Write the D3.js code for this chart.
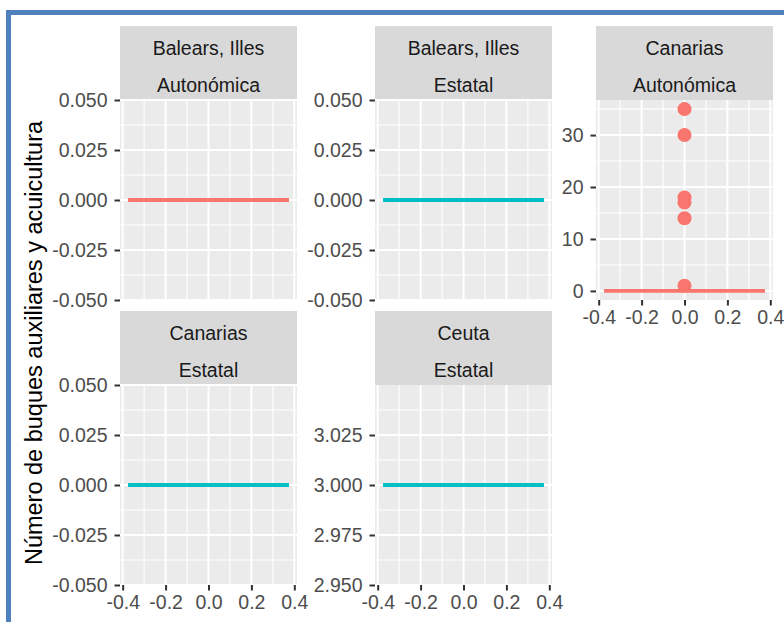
<!DOCTYPE html>
<html>
<head>
<meta charset="utf-8">
<script src="https://cdn.jsdelivr.net/npm/d3@7"></script>
<style>
  html, body { margin: 0; padding: 0; background: #ffffff; }
  svg { display: block; }
</style>
</head>
<body>
<script>
// Facet panels: comunidad + titularidad
const regions = ["Balears, Illes", "Balears, Illes", "Canarias", "Canarias", "Ceuta"];
const titularidad = ["Autonómica", "Estatal", "Autonómica", "Estatal", "Estatal"];
// Boxplot summaries per panel (all quartiles collapse onto the median)
const medians = [0, 0, 0, 0, 3];
const outliers = [[], [], [1, 14, 17, 18, 30, 35], [], []];
// Axis ticks
const xTicks = [-0.4, -0.2, 0.0, 0.2, 0.4];
const yTicks = [
  [-0.05, -0.025, 0, 0.025, 0.05],
  [-0.05, -0.025, 0, 0.025, 0.05],
  [0, 10, 20, 30],
  [-0.05, -0.025, 0, 0.025, 0.05],
  [2.95, 2.975, 3.0, 3.025]
];
const yTitle = "Número de buques auxiliares y acuicultura";
const fillColors = { "Autonómica": "#F8766D", "Estatal": "#00BFC4" };

const W = 784, H = 622;
const FONT = "'Liberation Sans', Arial, sans-serif";
const FS = 19.5;
const colX = [120, 375, 596];
const stripTop = [26, 311];
const stripH = 74;
const panelW = 177, panelH = 200;
const boxWidth = 0.75;

const svg = d3.select("body").append("svg").attr("width", W).attr("height", H);
svg.append("rect").attr("width", W).attr("height", H).attr("fill", "#ffffff");

// frame
svg.append("line").attr("x1", 6).attr("x2", W).attr("y1", 12.5).attr("y2", 12.5)
  .attr("stroke", "#4F81BD").attr("stroke-width", 5);
svg.append("line").attr("x1", 8.5).attr("x2", 8.5).attr("y1", 10).attr("y2", H)
  .attr("stroke", "#4F81BD").attr("stroke-width", 5);

const xHalf = boxWidth / 2;
const xPad = boxWidth * 0.05;

function yDomain(i) {
  const vals = [medians[i], ...outliers[i]];
  const lo = d3.min(vals), hi = d3.max(vals);
  if (lo === hi) return [lo - 0.05, hi + 0.05];
  const pad = (hi - lo) * 0.05;
  return [lo - pad, hi + pad];
}

function minorBetween(ticks, domain) {
  const step = ticks[1] - ticks[0];
  const out = [];
  for (let k = -1; k < ticks.length; k++) {
    const v = ticks[0] + step * (k + 0.5);
    if (v >= domain[0] - 1e-9 && v <= domain[1] + 1e-9) out.push(v);
  }
  return out;
}

const fmt3 = d3.format(".3f");

regions.forEach((reg, i) => {
  const col = i % 3, row = Math.floor(i / 3);
  const x0 = colX[col];
  const sTop = stripTop[row];
  const pTop = sTop + stripH;
  const g = svg.append("g");

  // strip
  g.append("rect").attr("x", x0).attr("y", sTop).attr("width", panelW).attr("height", stripH)
    .attr("fill", "#D9D9D9");
  g.append("text").attr("x", x0 + panelW / 2).attr("y", sTop + 22.5).attr("dy", "0.35em")
    .attr("text-anchor", "middle").attr("font-family", FONT).attr("font-size", FS)
    .attr("fill", "#1A1A1A").text(reg);
  g.append("text").attr("x", x0 + panelW / 2).attr("y", sTop + 59).attr("dy", "0.35em")
    .attr("text-anchor", "middle").attr("font-family", FONT).attr("font-size", FS)
    .attr("fill", "#1A1A1A").text(titularidad[i]);

  // scales
  const x = d3.scaleLinear().domain([-xHalf - xPad, xHalf + xPad]).range([x0, x0 + panelW]);
  const dom = yDomain(i);
  const y = d3.scaleLinear().domain(dom).range([pTop + panelH, pTop]);

  // panel background
  g.append("rect").attr("x", x0).attr("y", pTop).attr("width", panelW).attr("height", panelH)
    .attr("fill", "#EBEBEB");

  const grid = g.append("g");
  const yMinor = minorBetween(yTicks[i], dom);
  const xMinor = minorBetween(xTicks, x.domain());
  grid.selectAll(".ymin").data(yMinor).join("line")
    .attr("x1", x0).attr("x2", x0 + panelW).attr("y1", d => y(d)).attr("y2", d => y(d))
    .attr("stroke", "#ffffff").attr("stroke-width", 1.1);
  grid.selectAll(".xmin").data(xMinor).join("line")
    .attr("y1", pTop).attr("y2", pTop + panelH).attr("x1", d => x(d)).attr("x2", d => x(d))
    .attr("stroke", "#ffffff").attr("stroke-width", 1.1);
  grid.selectAll(".ymaj").data(yTicks[i]).join("line")
    .attr("x1", x0).attr("x2", x0 + panelW).attr("y1", d => y(d)).attr("y2", d => y(d))
    .attr("stroke", "#ffffff").attr("stroke-width", 2);
  grid.selectAll(".xmaj").data(xTicks).join("line")
    .attr("y1", pTop).attr("y2", pTop + panelH).attr("x1", d => x(d)).attr("x2", d => x(d))
    .attr("stroke", "#ffffff").attr("stroke-width", 2);

  const color = fillColors[titularidad[i]];
  // collapsed box / median
  g.append("line")
    .attr("x1", x(-xHalf)).attr("x2", x(xHalf))
    .attr("y1", y(medians[i])).attr("y2", y(medians[i]))
    .attr("stroke", color).attr("stroke-width", 3.8);
  // outliers
  g.selectAll(".out").data(outliers[i]).join("circle")
    .attr("cx", x(0)).attr("cy", d => y(d)).attr("r", 7)
    .attr("fill", color);

  // y axis
  const yAxis = d3.axisLeft(y).tickValues(yTicks[i]).tickSize(5.5).tickPadding(7)
    .tickFormat(d => (i === 2 ? d3.format("d")(d) : fmt3(d)).replace("\u2212", "-"));
  const ya = g.append("g").attr("transform", `translate(${x0},0)`).call(yAxis);
  ya.select(".domain").remove();
  ya.selectAll(".tick line").attr("stroke", "#333333").attr("stroke-width", 2);
  ya.selectAll(".tick text").attr("font-family", FONT).attr("font-size", FS).attr("fill", "#4D4D4D");

  // x axis where nothing sits below
  if (row === 1 || col === 2) {
    const xAxis = d3.axisBottom(x).tickValues(xTicks).tickSize(5.5).tickPadding(5)
      .tickFormat(d => d3.format(".1f")(d).replace("\u2212", "-"));
    const xa = g.append("g").attr("transform", `translate(0,${pTop + panelH})`).call(xAxis);
    xa.select(".domain").remove();
    xa.selectAll(".tick line").attr("stroke", "#333333").attr("stroke-width", 2);
    xa.selectAll(".tick text").attr("font-family", FONT).attr("font-size", FS).attr("fill", "#4D4D4D");
  }
});

// y axis title
svg.append("text")
  .attr("transform", "translate(42,343) rotate(-90)")
  .attr("text-anchor", "middle")
  .attr("font-family", FONT).attr("font-size", 23.5)
  .attr("fill", "#000000")
  .text(yTitle);
</script>
</body>
</html>
